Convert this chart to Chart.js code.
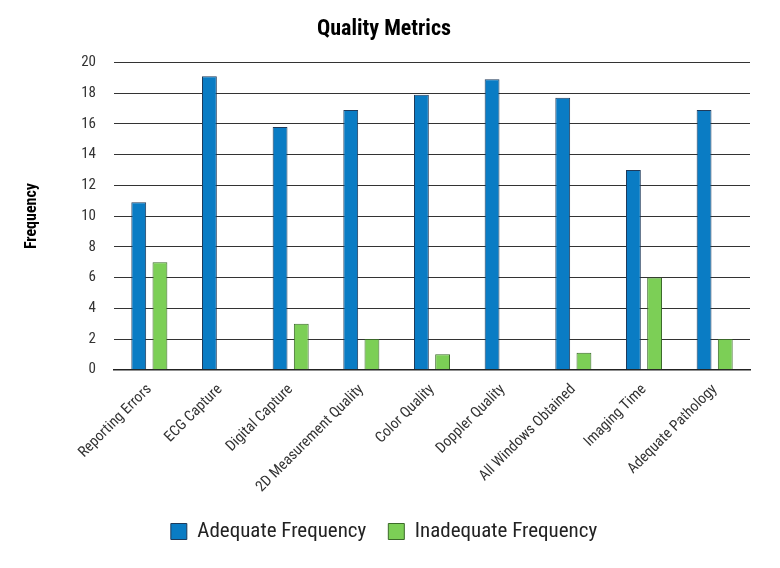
<!DOCTYPE html>
<html><head><meta charset="utf-8">
<script src="https://cdn.jsdelivr.net/npm/chart.js@4"></script>
<style>html,body{margin:0;background:#fff}#w{width:780px;height:568px}</style>
</head><body><div id="w"><canvas id="c"></canvas></div>
<script>
const categories=["Reporting Errors","ECG Capture","Digital Capture","2D Measurement Quality","Color Quality","Doppler Quality","All Windows Obtained","Imaging Time","Adequate Pathology"];
const adequate=[10.9,19.1,15.8,16.9,17.9,18.9,17.7,13,16.9];
const inadequate=[7,0,3,2,1,0,1.1,6,2];
const yTicks=[0,2,4,6,8,10,12,14,16,18,20];
const F="'Liberation Sans Narrow','Roboto Condensed','Liberation Sans',sans-serif";
new Chart(document.getElementById('c'),{type:'bar',
data:{labels:categories,datasets:[
{label:'Adequate Frequency',data:adequate,backgroundColor:'#0a7cc4',borderColor:'#1f3a5a',borderWidth:1},
{label:'Inadequate Frequency',data:inadequate,backgroundColor:'#7ccf56',borderColor:'#3c6a2a',borderWidth:1}]},
options:{responsive:true,maintainAspectRatio:false,animation:false,
layout:{padding:{left:18,right:30,top:10,bottom:16}},
datasets:{bar:{categoryPercentage:0.6,barPercentage:0.7}},
plugins:{title:{display:true,text:'Quality Metrics',color:'#000',font:{family:F,size:22,weight:'bold'},padding:{top:6,bottom:20}},
legend:{position:'bottom',labels:{color:'#222',font:{family:F,size:21},boxWidth:16,boxHeight:16,padding:22}},tooltip:{enabled:false}},
scales:{x:{grid:{display:false},border:{color:'#222',width:1.5},ticks:{color:'#333',font:{family:F,size:15},maxRotation:45,minRotation:45}},
y:{min:0,max:20,afterBuildTicks:a=>{a.ticks=yTicks.map(v=>({value:v}))},grid:{color:'#333',drawTicks:false},border:{display:false},
ticks:{color:'#333',font:{family:F,size:15},padding:18},
title:{display:true,text:'Frequency',color:'#000',font:{family:F,size:16,weight:'bold'},padding:{bottom:22}}}}}});
</script></body></html>
